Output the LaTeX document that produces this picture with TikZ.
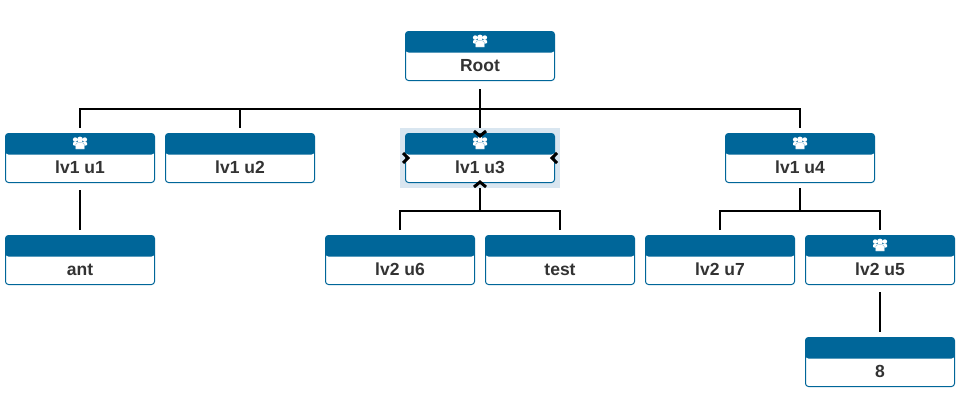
\documentclass[tikz,border=0pt]{standalone}
\usepackage{fontspec}
\setmainfont{Liberation Sans}
\definecolor{head}{HTML}{006699}
\definecolor{sel}{HTML}{D9E6F0}
\definecolor{ink}{HTML}{333333}
\tikzset{
  unit/.style={draw=head,line width=1pt,fill=white,rounded corners=3pt,minimum width=149pt,minimum height=49pt,inner sep=0pt,outer sep=0.5pt,
    path picture={\fill[head] (path picture bounding box.north west) rectangle ([yshift=-21pt]path picture bounding box.north east);}},
  unittext/.style={font=\bfseries\fontsize{17.5}{19}\selectfont,text=ink,inner sep=0pt,anchor=base},
  conn/.style={draw=black,line width=2pt},
  chev/.style={draw=black,line width=3pt,miter limit=4},
  selbox/.style={fill=sel,draw=none,minimum width=160pt,minimum height=60pt,inner sep=0pt,outer sep=0pt},
}
\newcommand{\unitnode}[4]{%
  \node[unit] (#1) at (#2,#3) {};
  \node[unittext] (#1-t) at ([yshift=-15.5pt]#1.center) {#4};
}
\newcommand{\peopleicon}[1]{%
  \begin{scope}[shift={([yshift=-10pt]#1.north)},x=1pt,y=-1pt]
    \fill[white] (-4.8,-3.4) circle (2.3) (4.8,-3.4) circle (2.3);
    \fill[white] (-7,2) -- (-7,0) .. controls (-7,-1) and (-5.5,-1.2) .. (-4,-1) -- (4,-1) .. controls (5.5,-1.2) and (7,-1) .. (7,0) -- (7,2) -- (4,3) -- (-4,3) -- cycle;
    \fill[white] (0,-3.4) circle (3);
    \draw[head!45!white,line width=.4pt,fill=white] (-4.3,6) -- (-4.3,1.6) .. controls (-4.3,0) and (-2.5,-.5) .. (0,-.5) .. controls (2.5,-.5) and (4.3,0) .. (4.3,1.6) -- (4.3,6) -- cycle;
  \end{scope}
}
\begin{document}
\begin{tikzpicture}[x=1pt,y=-1pt]
\useasboundingbox (0,0) rectangle (969,407);
\fill[white] (0,0) rectangle (969,407);
\node[selbox] (selected) at (480,158) {};
% units
\unitnode{root}{480}{56}{Root}
\unitnode{u1}{80}{158}{lv1 u1}
\unitnode{u2}{240}{158}{lv1 u2}
\unitnode{u3}{480}{158}{lv1 u3}
\unitnode{u4}{800}{158}{lv1 u4}
\unitnode{ant}{80}{260}{ant}
\unitnode{u6}{400}{260}{lv2 u6}
\unitnode{test}{560}{260}{test}
\unitnode{u7}{720}{260}{lv2 u7}
\unitnode{u5}{880}{260}{lv2 u5}
\unitnode{eight}{880}{362}{8}
\peopleicon{root}
\peopleicon{u1}
\peopleicon{u3}
\peopleicon{u4}
\peopleicon{u5}
% connectors
\draw[conn,shorten <=8pt,shorten >=5pt] (root.south) -- ++(0,28) -| (u1.north);
\draw[conn,shorten <=8pt,shorten >=5pt] (root.south) -- ++(0,28) -| (u2.north);
\draw[conn,shorten <=8pt,shorten >=5pt] (root.south) -- (u3.north);
\draw[conn,shorten <=8pt,shorten >=5pt] (root.south) -- ++(0,28) -| (u4.north);
\draw[conn,shorten <=7pt,shorten >=5pt] (u1.south) -- (ant.north);
\draw[conn,shorten <=5pt,shorten >=5pt] (u3.south) -- ++(0,28) -| (u6.north);
\draw[conn,shorten <=5pt,shorten >=5pt] (u3.south) -- ++(0,28) -| (test.north);
\draw[conn,shorten <=5pt,shorten >=5pt] (u4.south) -- ++(0,28) -| (u7.north);
\draw[conn,shorten <=5pt,shorten >=5pt] (u4.south) -- ++(0,28) -| (u5.north);
\draw[conn,shorten <=7pt,shorten >=5pt] (u5.south) -- (eight.north);
% chevrons
\draw[chev] ([shift={(-6,-2)}]u3.north) -- ([shift={(0,3)}]u3.north) -- ([shift={(6,-2)}]u3.north);
\draw[chev] ([shift={(-6,4)}]u3.south) -- ([shift={(0,-1)}]u3.south) -- ([shift={(6,4)}]u3.south);
\draw[chev] ([shift={(-2,-5)}]u3.west) -- ([shift={(3,0)}]u3.west) -- ([shift={(-2,5)}]u3.west);
\draw[chev] ([shift={(2,-5)}]u3.east) -- ([shift={(-3,0)}]u3.east) -- ([shift={(2,5)}]u3.east);
\end{tikzpicture}
\end{document}
